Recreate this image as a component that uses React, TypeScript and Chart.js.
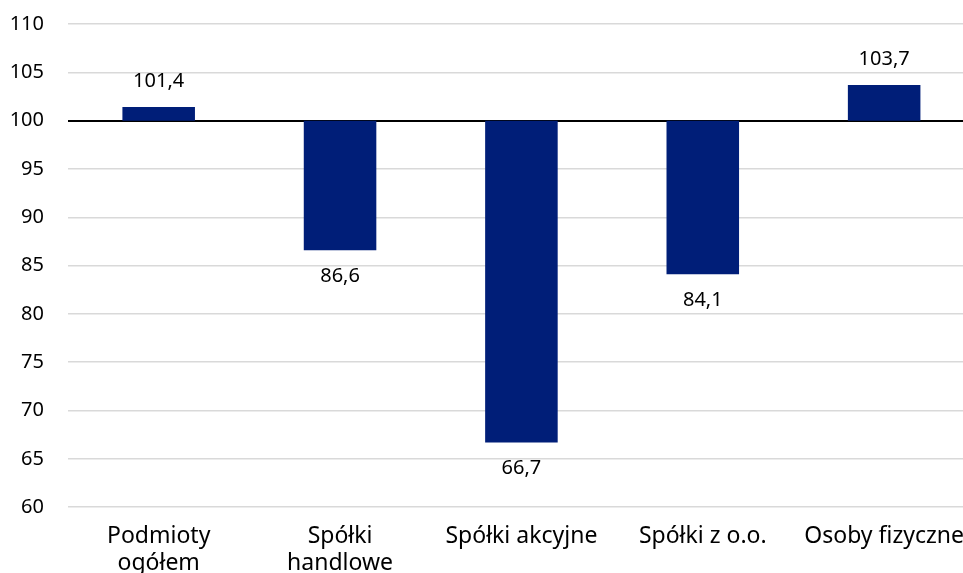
import React, { useEffect, useRef } from "react";
import { Chart, registerables } from "chart.js";

Chart.register(...registerables);

const categories: (string | string[])[] = [
  ["Podmioty", "ogółem"],
  ["Spółki", "handlowe"],
  "Spółki akcyjne",
  "Spółki z o.o.",
  "Osoby fizyczne",
];
const values: number[] = [101.4, 86.6, 66.7, 84.1, 103.7];
const baseValue = 100;
const yMin = 60;
const yMax = 110;
const yStep = 5;

const FONT = "'Noto Sans', sans-serif";
const BAR_COLOR = "#001E78";

const valueLabels = {
  id: "valueLabels",
  afterDatasetsDraw(chart: any) {
    const ctx = chart.ctx;
    const meta = chart.getDatasetMeta(0);
    ctx.save();
    ctx.font = `20px ${FONT}`;
    ctx.fillStyle = "#000";
    ctx.textAlign = "center";
    ctx.textBaseline = "middle";
    meta.data.forEach((el: any, i: number) => {
      const v = values[i];
      const y = chart.scales.y.getPixelForValue(v);
      const yy = v >= baseValue ? y - 26 : y + 26;
      ctx.fillText(v.toFixed(1).replace(".", ","), el.x, yy);
    });
    ctx.restore();
  },
};

export default function App() {
  const ref = useRef<HTMLCanvasElement | null>(null);
  useEffect(() => {
    if (!ref.current) return;
    const chart = new Chart(ref.current, {
      type: "bar",
      data: {
        labels: categories,
        datasets: [
          {
            data: values.map((v) => [baseValue, v]) as any,
            backgroundColor: BAR_COLOR,
            borderWidth: 0,
            barPercentage: 0.4,
            categoryPercentage: 1,
          },
        ],
      },
      options: {
        animation: false,
        responsive: false,
        maintainAspectRatio: false,
        layout: { padding: { top: 24, right: 0, bottom: 3, left: 0 } },
        plugins: { legend: { display: false }, tooltip: { enabled: false } },
        scales: {
          x: {
            grid: { display: false, drawTicks: false },
            border: { display: false },
            ticks: {
              color: "#000",
              padding: 16,
              maxRotation: 0,
              autoSkip: false,
              font: { family: FONT, size: 23, lineHeight: 1.17 },
            },
          },
          y: {
            min: yMin,
            max: yMax,
            afterFit(scale: any) {
              scale.width = 68;
              scale.paddingTop = 0;
              scale.paddingBottom = 0;
            },
            grid: {
              drawTicks: false,
              color: (c: any) => (c.tick && c.tick.value === baseValue ? "#000" : "#d9d9d9"),
              lineWidth: (c: any) => (c.tick && c.tick.value === baseValue ? 2 : 1.5),
            },
            border: { display: false },
            ticks: {
              stepSize: yStep,
              color: "#000",
              padding: 24,
              font: { family: FONT, size: 20 },
            },
          },
        },
      },
      plugins: [valueLabels],
    });
    return () => chart.destroy();
  }, []);
  return (
    <div style={{ position: "fixed", left: 0, top: 0, width: 963, height: 573, overflow: "hidden" }}>
      <canvas ref={ref} width={980} height={596} style={{ display: "block" }} />
    </div>
  );
}
